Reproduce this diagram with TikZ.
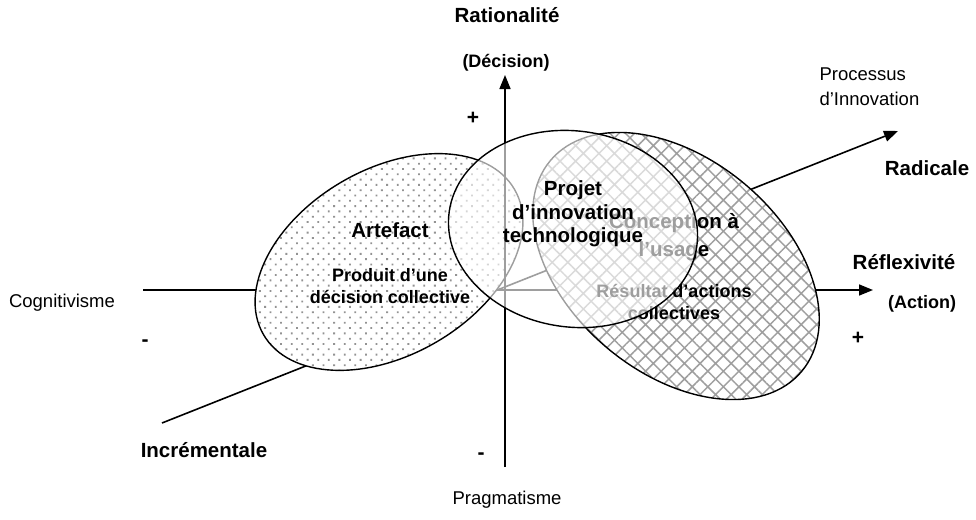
\documentclass[tikz,border=0pt]{standalone}
\usepackage{fontspec}
\setmainfont{Liberation Sans}
\usetikzlibrary{arrows.meta,patterns.meta}

\begin{document}
\begin{tikzpicture}[
    x=1pt, y=-1pt,
    axis/.style={line width=1.6pt, -{Triangle[length=14pt,width=11pt]}},
    shape line/.style={line width=1.4pt},
    label/.style={font=\fontsize{18.5}{25}\selectfont},
    bold label/.style={font=\fontsize{20.5}{23.5}\selectfont\bfseries, align=center},
    small bold/.style={font=\fontsize{18}{21.5}\selectfont\bfseries, align=center},
    sign/.style={font=\fontsize{21}{21}\selectfont\bfseries}
]
    \useasboundingbox (0,0) rectangle (976,519);
    % Axis ends
    \coordinate (cog) at (143,290);
    \coordinate (refl) at (873,290);
    \coordinate (incr) at (162,423);
    \coordinate (rad) at (898,131);
    \coordinate (prag) at (505,467);
    \coordinate (rat) at (505,75);
    % Horizontal and diagonal axes
    \draw[axis] (cog) -- (refl);
    \draw[axis] (incr) -- (rad);
    % Artefact
    \draw[shape line, preaction={fill=white},
        pattern={Dots[angle=45,distance=7.5pt,radius=1.3pt]}, pattern color=gray!85,
        rotate around={30:(389,262)}] (389,262) ellipse [x radius=145, y radius=93];
    \node[bold label] (artefact) at (390,230) {Artefact};
    \node[small bold] (produit) at (390,286) {Produit d’une\\décision collective};
    % Vertical axis
    \draw[axis] (prag) -- (rat);
    % Conception a l'usage
    \draw[shape line, preaction={fill=white},
        pattern={Hatch[angle=45,distance=11pt,line width=1.5pt]}, pattern color=gray!75,
        rotate around={-40:(676,266)}] (676,266) ellipse [x radius=164, y radius=107];
    \node[bold label] (conception) at (674,237) {Conception à\\[5pt]l’usage};
    \node[small bold] (resultat) at (674,302) {Résultat d’actions\\collectives};
    % Projet (veil over the others)
    \fill[white, fill opacity=0.62, rotate around={-8:(573,229)}]
        (573,229) ellipse [x radius=125, y radius=98];
    \draw[shape line, rotate around={-8:(573,229)}]
        (573,229) ellipse [x radius=125, y radius=98];
    \node[bold label] (projet) at (573,214) {Projet\\d’innovation\\technologique};
    % Axis labels
    \node[bold label] (rationalite) at (507,15) {Rationalité};
    \node[small bold] (decision) at (506,63) {(Décision)};
    \node[label, align=left, anchor=west] (processus) at (816,87) {Processus\\d’Innovation};
    \node[bold label] (radicale) at (927,168) {Radicale};
    \node[bold label] (reflexivite) at (904,262) {Réflexivité};
    \node[small bold] (action) at (922,304) {(Action)};
    \node[label] (cognitivisme) at (62,303) {Cognitivisme};
    \node[bold label] (incrementale) at (204,450) {Incrémentale};
    \node[label] (pragmatisme) at (507,500) {Pragmatisme};
    % Signs
    \node[sign] (plus top) at (473,118) {+};
    \node[sign] (minus left) at (145,343) {-};
    \node[sign] (plus right) at (858,338) {+};
    \node[sign] (minus bottom) at (481,456) {-};
\end{tikzpicture}
\end{document}
